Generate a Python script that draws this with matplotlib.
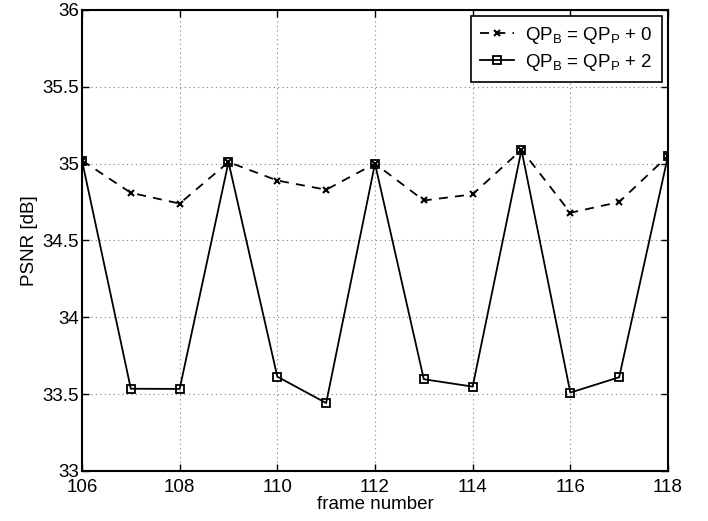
import matplotlib
matplotlib.use("Agg")
import matplotlib.pyplot as plt

plt.rcParams["font.family"] = ["Liberation Sans", "DejaVu Sans"]

frames = list(range(106, 119))
psnr_qp0 = [35.02, 34.81, 34.74, 35.01, 34.89, 34.83, 35.00, 34.76, 34.80, 35.09, 34.68, 34.75, 35.05]
psnr_qp2 = [35.02, 33.535, 33.534, 35.01, 33.614, 33.442, 35.00, 33.597, 33.549, 35.09, 33.51, 33.61, 35.05]

xticks = list(range(106, 119, 2))
yticks = [33, 33.5, 34, 34.5, 35, 35.5, 36]
ytick_labels = ["33", "33.5", "34", "34.5", "35", "35.5", "36"]

fig = plt.figure(figsize=(7.08, 5.21), dpi=100)
ax = fig.add_axes([0.1158, 0.096, 0.8277, 0.885])

ax.plot(frames, psnr_qp0, color="black", linestyle=(0, (5, 4)), linewidth=1.3,
        marker="x", markersize=4, markeredgewidth=1.5,
        label=r"QP$_\mathregular{B}$ = QP$_\mathregular{P}$ + 0")
ax.plot(frames, psnr_qp2, color="black", linestyle="-", linewidth=1.3,
        marker="s", markersize=6, markerfacecolor="none", markeredgewidth=1.3,
        label=r"QP$_\mathregular{B}$ = QP$_\mathregular{P}$ + 2")

ax.set_xlim(106, 118)
ax.set_ylim(33, 36)
ax.set_xticks(xticks)
ax.set_yticks(yticks)
ax.set_yticklabels(ytick_labels)
ax.grid(True, color="gray", linestyle=(0, (1, 3)), linewidth=0.8)
ax.tick_params(direction="in", labelsize=13.5, length=5, width=1, top=True, right=True)
ax.tick_params(axis="x", pad=6)
ax.tick_params(axis="y", pad=2)
for s in ax.spines.values():
    s.set_linewidth(1.5)

ax.set_xlabel("frame number", fontsize=13.5, labelpad=0)
ax.set_ylabel("PSNR [dB]", fontsize=13.5, labelpad=3)

leg = ax.legend(loc="upper right", fontsize=13.5, frameon=True, fancybox=False,
                edgecolor="black", framealpha=1, borderaxespad=0.3, handlelength=1.8,
                handletextpad=0.6, labelspacing=0.3, borderpad=0.5)
leg.get_frame().set_linewidth(1.2)

fig.savefig("out.png", dpi=100)
